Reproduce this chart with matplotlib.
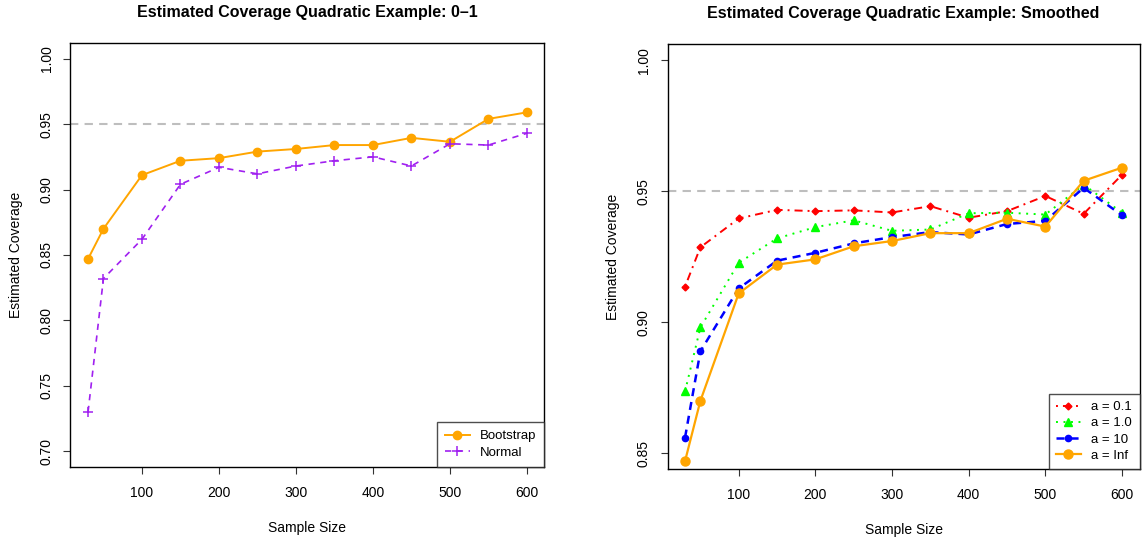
import numpy as np
import matplotlib
matplotlib.use('Agg')
import matplotlib.pyplot as plt

plt.rcParams['font.family'] = ['Liberation Sans', 'DejaVu Sans']
plt.rcParams['lines.scale_dashes'] = False

# sample sizes
n_sizes = [30, 50, 100, 150, 200, 250, 300, 350, 400, 450, 500, 550, 600]

# left panel: 0-1 example
cov_boot = [0.847, 0.870, 0.911, 0.922, 0.924, 0.929, 0.931, 0.934, 0.934,
            0.9395, 0.9365, 0.954, 0.959]
cov_normal = [0.730, 0.832, 0.862, 0.904, 0.917, 0.912, 0.918, 0.922, 0.925,
              0.918, 0.935, 0.934, 0.943]

# right panel: smoothed, by a
cov_a01 = [0.9136, 0.9286, 0.9396, 0.9429, 0.9424, 0.9427, 0.9419, 0.9443,
           0.9399, 0.9424, 0.9482, 0.9414, 0.9563]
cov_a1 = [0.8736, 0.898, 0.9227, 0.932, 0.9363, 0.9389, 0.9349, 0.9354,
          0.9416, 0.9418, 0.9411, 0.9525, 0.9418]
cov_a10 = [0.856, 0.8889, 0.9129, 0.9235, 0.9265, 0.9301, 0.9325, 0.9344,
           0.9335, 0.9375, 0.9387, 0.9513, 0.9408]
cov_ainf = cov_boot

nominal = 0.95

fig = plt.figure(figsize=(11.48, 5.42), dpi=100)
ax1 = fig.add_axes([0.0614, 0.1384, 0.4129, 0.7823])
ax2 = fig.add_axes([0.5815, 0.1347, 0.4111, 0.7832])


def style_axes(ax, ylim, yticks, ylabels, title):
    ax.set_xlim(7.2, 622.8)
    ax.set_ylim(*ylim)
    ax.set_xticks([100, 200, 300, 400, 500, 600])
    ax.set_yticks(yticks)
    ax.set_yticklabels(ylabels, rotation=90, va='center')
    ax.tick_params(axis='both', direction='out', length=5, width=0.8,
                   labelsize=10, color='#333333')
    ax.tick_params(axis='x', pad=9)
    ax.tick_params(axis='y', pad=7)
    for sp in ax.spines.values():
        sp.set_linewidth(1.0)
    ax.set_xlabel('Sample Size', fontsize=10, labelpad=15)
    ax.set_ylabel('Estimated Coverage', fontsize=10, labelpad=12)
    ax.set_title(title, fontsize=11.5, fontweight='bold', pad=19)


# %% left panel
ax1.axhline(nominal, color='#BEBEBE', lw=1.5, dashes=(6, 4.5), zorder=1)
ax1.plot(n_sizes, cov_boot, color='#FFA500', lw=1.4, marker='o', ms=6,
         label='Bootstrap')
ax1.plot(n_sizes, cov_normal, color='#A020F0', lw=1.2, dashes=(4.5, 4),
         marker='+', ms=7, mew=1.1, label='Normal')
style_axes(ax1, (0.688, 1.012), [0.70, 0.75, 0.80, 0.85, 0.90, 0.95, 1.00],
           ['0.70', '0.75', '0.80', '0.85', '0.90', '0.95', '1.00'],
           'Estimated Coverage Quadratic Example: 0\u20131')
leg1 = ax1.legend(loc='lower right', fontsize=9.5, frameon=True,
                  fancybox=False, edgecolor='#222222', borderaxespad=0,
                  handlelength=1.9, handletextpad=0.8, labelspacing=0.33,
                  borderpad=0.6)
leg1.get_frame().set_linewidth(1.0)

# %% right panel
ax2.axhline(nominal, color='#BEBEBE', lw=1.5, dashes=(6, 4.5), zorder=1)
ax2.plot(n_sizes, cov_a01, color='#FF0000', lw=1.4,
         dashes=(1.4, 3.6, 5.8, 3.6), marker='D', ms=3.5, label='a = 0.1')
ax2.plot(n_sizes, cov_a1, color='#00FF00', lw=1.4, dashes=(1.4, 4.0),
         marker='^', ms=5.5, label='a = 1.0')
ax2.plot(n_sizes, cov_a10, color='#0000FF', lw=1.8, dashes=(5.8, 4.3),
         marker='o', ms=4.5, label='a = 10')
ax2.plot(n_sizes, cov_ainf, color='#FFA500', lw=1.6, marker='o', ms=6.5,
         label='a = Inf')
style_axes(ax2, (0.844, 1.006), [0.85, 0.90, 0.95, 1.00],
           ['0.85', '0.90', '0.95', '1.00'],
           'Estimated Coverage Quadratic Example: Smoothed')
leg2 = ax2.legend(loc='lower right', fontsize=9.5, frameon=True,
                  fancybox=False, edgecolor='#222222', borderaxespad=0,
                  handlelength=1.9, handletextpad=0.8, labelspacing=0.3,
                  borderpad=0.55)
leg2.get_frame().set_linewidth(1.0)

fig.savefig('out.png', dpi=100)
